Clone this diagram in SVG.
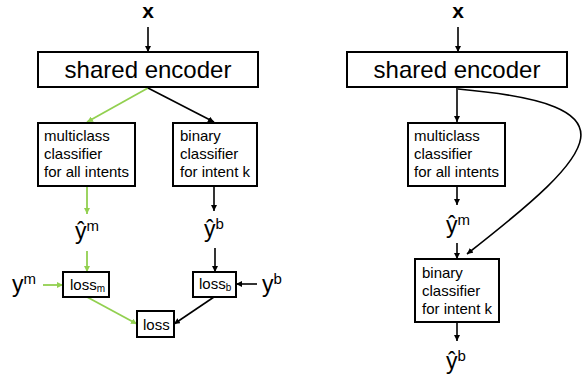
<svg xmlns="http://www.w3.org/2000/svg" width="582" height="378" viewBox="0 0 582 378">
<style>
.box{fill:#fff;stroke:#000;stroke-width:2}
.t{font-family:"Liberation Sans",Arial,sans-serif;fill:#000}
.enc{font-size:24px}
.cls{font-size:15px}
.var{font-size:23px}
.sup{font-size:15px}
.loss{font-size:15px}
.sub{font-size:10px}
.xl{font-size:21px;font-weight:bold}
.k{fill:none;stroke:#000;stroke-width:1.6}
.g{fill:none;stroke:#92D050;stroke-width:1.8}
</style>
<defs>
<marker id="ak" viewBox="0 0 10 10" refX="10" refY="5" markerWidth="6" markerHeight="6" markerUnits="userSpaceOnUse" orient="auto"><path d="M0,0L10,5L0,10z" fill="#000"/></marker>
<marker id="ag" viewBox="0 0 10 10" refX="10" refY="5" markerWidth="6" markerHeight="6" markerUnits="userSpaceOnUse" orient="auto"><path d="M0,0L10,5L0,10z" fill="#92D050"/></marker>
</defs>
<rect width="582" height="378" fill="#fff"/>
<g id="connectors">
<line class="k" x1="148" y1="27" x2="148" y2="52" marker-end="url(#ak)"/>
<line class="g" x1="148" y1="88" x2="87" y2="122" marker-end="url(#ag)"/>
<line class="k" x1="148" y1="88" x2="214" y2="122" marker-end="url(#ak)"/>
<line class="g" x1="87" y1="187" x2="87" y2="214" marker-end="url(#ag)"/>
<line class="g" x1="87" y1="251" x2="87" y2="272" marker-end="url(#ag)"/>
<line class="g" x1="43" y1="285" x2="63" y2="285" marker-end="url(#ag)"/>
<line class="g" x1="87" y1="297" x2="137" y2="324" marker-end="url(#ag)"/>
<line class="k" x1="214" y1="187" x2="214" y2="211" marker-end="url(#ak)"/>
<line class="k" x1="215" y1="248" x2="215" y2="272" marker-end="url(#ak)"/>
<line class="k" x1="257" y1="284" x2="236" y2="284" marker-end="url(#ak)"/>
<line class="k" x1="214" y1="297" x2="174" y2="324" marker-end="url(#ak)"/>
<line class="k" x1="458" y1="27" x2="458" y2="52" marker-end="url(#ak)"/>
<line class="k" x1="457" y1="88" x2="457" y2="122" marker-end="url(#ak)"/>
<path class="k" d="M458,89 C640,105 600,150 467,254" marker-end="url(#ak)"/>
<line class="k" x1="457" y1="187" x2="457" y2="205" marker-end="url(#ak)"/>
<line class="k" x1="457" y1="243" x2="457" y2="259" marker-end="url(#ak)"/>
<line class="k" x1="457" y1="323" x2="457" y2="341" marker-end="url(#ak)"/>
</g>
<g id="x-left"><text class="t xl" x="148" y="18" text-anchor="middle">x</text></g>
<g id="encoder-left"><rect class="box" x="38" y="52" width="220" height="35"/><text class="t enc" x="148" y="78" text-anchor="middle">shared encoder</text></g>
<g id="multiclass-left"><rect class="box" x="38" y="123" width="97" height="63"/><text class="t cls" x="44"><tspan x="44" y="141">multiclass</tspan><tspan x="44" y="159">classifier</tspan><tspan x="44" y="177">for all intents</tspan></text></g>
<g id="binary-left"><rect class="box" x="173" y="123" width="84" height="63"/><text class="t cls" x="180"><tspan x="180" y="141">binary</tspan><tspan x="180" y="159">classifier</tspan><tspan x="180" y="177">for intent k</tspan></text></g>
<g id="yhat-m-left"><text class="t var" x="75" y="239">ŷ<tspan class="sup" dy="-8">m</tspan></text></g>
<g id="yhat-b-left"><text class="t var" x="204" y="237">ŷ<tspan class="sup" dy="-8">b</tspan></text></g>
<g id="y-m"><text class="t var" x="12" y="292">y<tspan class="sup" dy="-8">m</tspan></text></g>
<g id="y-b"><text class="t var" x="262" y="292">y<tspan class="sup" dy="-8">b</tspan></text></g>
<g id="loss-m"><rect class="box" x="63" y="272" width="46" height="25"/><text class="t loss" x="70" y="290">loss<tspan class="sub" dy="2">m</tspan></text></g>
<g id="loss-b"><rect class="box" x="193" y="272" width="43" height="25"/><text class="t loss" x="199" y="289">loss<tspan class="sub" dy="2">b</tspan></text></g>
<g id="loss"><rect class="box" x="137" y="311" width="37" height="26"/><text class="t loss" x="143" y="330">loss</text></g>
<g id="x-right"><text class="t xl" x="458" y="18" text-anchor="middle">x</text></g>
<g id="encoder-right"><rect class="box" x="347" y="52" width="220" height="35"/><text class="t enc" x="457" y="78" text-anchor="middle">shared encoder</text></g>
<g id="multiclass-right"><rect class="box" x="408" y="123" width="97" height="63"/><text class="t cls" x="414"><tspan x="414" y="141">multiclass</tspan><tspan x="414" y="159">classifier</tspan><tspan x="414" y="177">for all intents</tspan></text></g>
<g id="yhat-m-right"><text class="t var" x="446" y="233">ŷ<tspan class="sup" dy="-8">m</tspan></text></g>
<g id="binary-right"><rect class="box" x="415" y="259" width="84" height="63"/><text class="t cls" x="422"><tspan x="422" y="278">binary</tspan><tspan x="422" y="296">classifier</tspan><tspan x="422" y="314">for intent k</tspan></text></g>
<g id="yhat-b-right"><text class="t var" x="446" y="369">ŷ<tspan class="sup" dy="-8">b</tspan></text></g>
</svg>
